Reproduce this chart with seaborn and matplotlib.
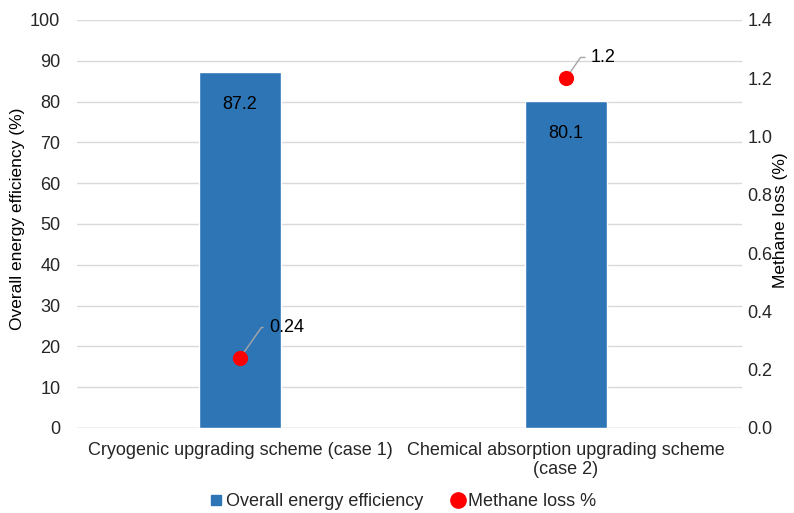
import matplotlib
matplotlib.use("Agg")
import matplotlib.pyplot as plt
from matplotlib.lines import Line2D
import seaborn as sns
import pandas as pd

categories = ["Cryogenic upgrading scheme (case 1)",
              "Chemical absorption upgrading scheme\n(case 2)"]
efficiency = [87.2, 80.1]
methane_loss = [0.24, 1.2]

sns.set_theme(style="white")
plt.rcParams["font.family"] = ["Liberation Sans", "DejaVu Sans"]

bar_color = "#2E75B6"
grid_color = "#D9D9D9"
text_color = "#000000"
tick_color = "#262626"
fs = 13
title_fs = 12.5

df = pd.DataFrame({"scheme": categories, "eff": efficiency, "loss": methane_loss})

fig = plt.figure(figsize=(7.94, 5.13), dpi=100)
ax = fig.add_axes([77 / 794, 1 - 428 / 513, (742 - 77) / 794, (428 - 20) / 513])

sns.barplot(data=df, x="scheme", y="eff", color=bar_color, width=0.25,
            saturation=1, ax=ax, zorder=3)
ax.set_ylim(0, 100)
ax.set_yticks(range(0, 101, 10))
ax.set_xlim(-0.5, 1.54)
ax.yaxis.grid(True, color=grid_color, linewidth=1, zorder=0)
ax.set_axisbelow(True)
for s in ax.spines.values():
    s.set_visible(False)
ax.axhline(0, color=grid_color, linewidth=1, zorder=1)
ax.tick_params(axis="both", length=0, labelsize=fs, colors=tick_color, pad=12)
ax.tick_params(axis="x", pad=10)
ax.set_xlabel("")
ax.set_ylabel("Overall energy efficiency (%)", fontsize=title_fs, color=text_color,
              va="center", ha="center")
ax.yaxis.set_label_coords((18 - 77) / 665, 0.512)

for i, v in enumerate(efficiency):
    ax.annotate(f"{v:.1f}", (i, v), xytext=(0, -23), textcoords="offset points",
                ha="center", va="center", fontsize=fs, color=text_color, zorder=5)

ax2 = ax.twinx()
sns.scatterplot(data=df, x="scheme", y="loss", color="#FF0000", s=120,
                edgecolor="#FF0000", linewidth=0, ax=ax2, zorder=4)
ax2.set_ylim(0, 1.4)
ax2.set_yticks([i / 5 for i in range(8)])
ax2.set_yticklabels([f"{i / 5:.1f}" for i in range(8)])
for s in ax2.spines.values():
    s.set_visible(False)
ax2.tick_params(axis="y", length=0, labelsize=fs, colors=tick_color, pad=4)
ax2.set_ylabel("Methane loss (%)", fontsize=title_fs, color=text_color,
               va="center", ha="center", rotation=90)
ax2.yaxis.set_label_coords((780 - 77) / 665, 0.51)

label_shift = [(21, 22), (18, 15)]
for i, v in enumerate(methane_loss):
    dx, dy = label_shift[i]
    ax2.annotate(f"{v:g}", (i, v), xytext=(dx, dy), textcoords="offset points",
                 ha="left", va="center", fontsize=fs, color=text_color,
                 arrowprops=dict(arrowstyle="-", color="#A6A6A6", lw=1,
                                 connectionstyle="angle,angleA=0,angleB=55,rad=0",
                                 shrinkA=2, shrinkB=0))

handles = [Line2D([0], [0], marker="s", linestyle="", color=bar_color, markersize=7.5),
           Line2D([0], [0], marker="o", linestyle="", color="#FF0000", markersize=11)]
fig.legend(handles, ["Overall energy efficiency", "Methane loss %"],
           loc="center", bbox_to_anchor=(0.5 + 5 / 794, 1 - 502 / 513), ncol=2,
           frameon=False, fontsize=fs, handletextpad=0.1, columnspacing=1.45,
           handlelength=0.9)

fig.savefig("out.png", dpi=100)
